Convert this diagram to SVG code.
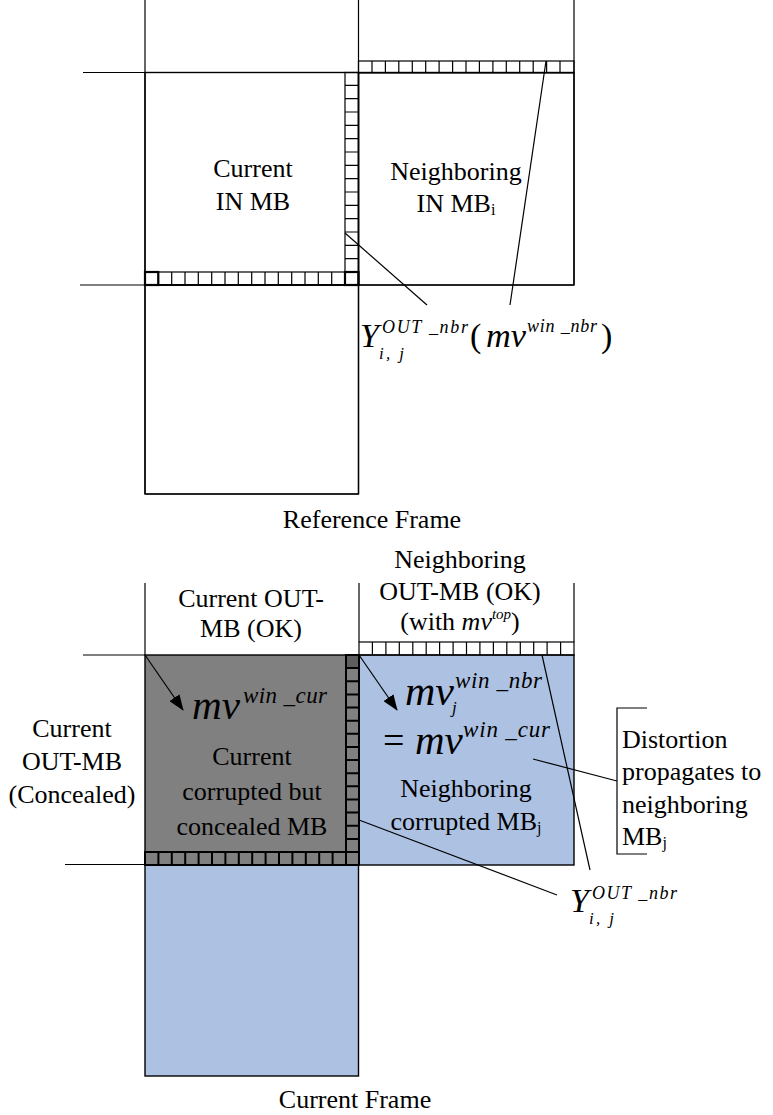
<svg xmlns="http://www.w3.org/2000/svg" width="773" height="1115" viewBox="0 0 773 1115">
<style>
.ln{stroke:#000;stroke-width:1.2;fill:none}
.box{stroke:#000;stroke-width:1.4}
.cell{stroke:#000;stroke-width:1.2;fill:none}
.gcell{stroke:#000;stroke-width:2;fill:none}
.t{font-family:"Liberation Serif","Times New Roman",serif;font-size:26px;fill:#000;text-anchor:middle}
.tl{font-family:"Liberation Serif","Times New Roman",serif;font-size:26px;fill:#000}
.m{font-family:"Liberation Serif","Times New Roman",serif;font-style:italic;fill:#000}
.r{font-family:"Liberation Serif","Times New Roman",serif;fill:#000}
</style>
<defs>
<marker id="ah" viewBox="0 0 16 12" refX="15" refY="6" markerWidth="16" markerHeight="12" markerUnits="userSpaceOnUse" orient="auto">
<path d="M0,0 L16,6 L0,12 Z" fill="#000"/>
</marker>
</defs>
<rect width="773" height="1115" fill="#fff"/>

<!-- Reference frame -->
<g id="ref-frame-lines">
<line class="ln" x1="145" y1="0" x2="145" y2="494"/>
<line class="ln" x1="358.5" y1="0" x2="358.5" y2="494"/>
<line class="ln" x1="574" y1="0" x2="574" y2="285"/>
<line class="ln" x1="83" y1="72.5" x2="358" y2="72.5"/>
<line class="ln" x1="80" y1="285" x2="574" y2="285"/>
<line class="ln" x1="145" y1="494" x2="358.5" y2="494"/>
</g>
<g id="current-in-mb">
<rect x="145" y="72.5" width="213.5" height="212.5" fill="none" class="box"/>
<rect x="345" y="72.5" width="13.5" height="212.5" fill="#fff" class="cell"/>
<path class="cell" d="M345,85.3H358.5M345,98.7H358.5M345,112H358.5M345,125.3H358.5M345,138.7H358.5M345,152H358.5M345,165.3H358.5M345,178.7H358.5M345,192H358.5M345,205.3H358.5M345,218.7H358.5M345,232H358.5M345,245.3H358.5M345,258.7H358.5M345,272H358.5"/>
<rect x="145" y="272" width="213.5" height="13" fill="#fff" class="cell"/>
<path class="cell" d="M158.3,272V285M171.7,272V285M185,272V285M198.3,272V285M211.7,272V285M225,272V285M238.3,272V285M251.7,272V285M265,272V285M278.3,272V285M291.7,272V285M305,272V285M318.3,272V285M331.7,272V285M345,272V285"/>
<rect x="145" y="272" width="13.3" height="13" fill="none" stroke="#000" stroke-width="2.2"/>
<rect x="345" y="272" width="13.5" height="13" fill="none" stroke="#000" stroke-width="2.2"/>
<text class="t" x="253" y="177">Current</text>
<text class="t" x="253" y="210">IN MB</text>
</g>
<g id="neighboring-in-mb">
<rect x="358.5" y="72.5" width="215.5" height="212.5" fill="none" class="box"/>
<rect x="358.5" y="61" width="215.5" height="12" fill="#fff" class="cell"/>
<path class="cell" d="M372,61V73M385.4,61V73M398.8,61V73M412.3,61V73M425.7,61V73M439.1,61V73M452.6,61V73M466,61V73M479.4,61V73M492.9,61V73M506.3,61V73M519.7,61V73M533.2,61V73M546.6,61V73M560,61V73"/>
<text class="t" x="456" y="180">Neighboring</text>
<text class="t" x="456" y="212">IN MB<tspan font-size="16" dy="3">i</tspan></text>
</g>
<g id="ref-lower-mb">
<rect x="145" y="285" width="213.5" height="209" fill="none" class="box"/>
</g>
<g id="ref-label">
<text class="m" x="360" y="347" font-size="34">Y</text>
<text class="m" x="382" y="333" font-size="18" textLength="86" lengthAdjust="spacing">OUT _nbr</text>
<text class="m" x="379" y="359" font-size="17" textLength="25" lengthAdjust="spacing">i, j</text>
<text class="r" x="470" y="347" font-size="34">(</text>
<text class="m" x="486" y="347" font-size="34" textLength="40" lengthAdjust="spacingAndGlyphs">mv</text>
<text class="m" x="527" y="332" font-size="18" textLength="70" lengthAdjust="spacing">win _nbr</text>
<text class="r" x="601" y="347" font-size="34">)</text>
</g>
<g id="ref-title">
<text class="t" x="372" y="528">Reference Frame</text>
</g>

<!-- Current frame -->
<g id="cur-frame-lines">
<line class="ln" x1="145" y1="583" x2="145" y2="655"/>
<line class="ln" x1="359" y1="583" x2="359" y2="642"/>
<line class="ln" x1="574" y1="583" x2="574" y2="642"/>
<line class="ln" x1="83" y1="655" x2="145" y2="655"/>
<line class="ln" x1="65" y1="864.5" x2="145" y2="864.5"/>
</g>
<g id="cur-lower-mb">
<rect x="145" y="865" width="213.5" height="211" fill="#adc2e3" class="box"/>
</g>
<g id="neighboring-corrupted-mb">
<rect x="359" y="655" width="215" height="210" fill="#adc2e3" class="box"/>
<rect x="359" y="642" width="215" height="13" fill="#fff" class="cell"/>
<path class="cell" d="M372.4,642V655M385.9,642V655M399.3,642V655M412.8,642V655M426.2,642V655M439.6,642V655M453.1,642V655M466.5,642V655M479.9,642V655M493.4,642V655M506.8,642V655M520.3,642V655M533.7,642V655M547.1,642V655M560.6,642V655"/>
<text class="t" x="466" y="797">Neighboring</text>
<text class="t" x="466" y="830">corrupted MB<tspan font-size="16" dy="3">j</tspan></text>
</g>
<g id="concealed-mb">
<rect x="145" y="655" width="214" height="210" fill="#808080" class="box"/>
<rect x="346" y="655" width="13" height="13" fill="#5e5e5e"/>
<rect x="346" y="655" width="13" height="210" fill="none" class="gcell"/>
<path class="gcell" d="M346,668.1H359M346,681.3H359M346,694.4H359M346,707.5H359M346,720.7H359M346,733.8H359M346,746.9H359M346,760.1H359M346,773.2H359M346,786.3H359M346,799.5H359M346,812.6H359M346,825.7H359M346,838.9H359M346,852H359"/>
<rect x="145" y="852" width="214" height="13" fill="none" class="gcell"/>
<path class="gcell" d="M158.4,852V865M171.8,852V865M185.2,852V865M198.6,852V865M212,852V865M225.4,852V865M238.8,852V865M252.2,852V865M265.6,852V865M279,852V865M292.4,852V865M305.8,852V865M319.2,852V865M332.6,852V865"/>
<text class="t" x="252" y="765">Current</text>
<text class="t" x="252" y="800">corrupted but</text>
<text class="t" x="252" y="835">concealed MB</text>
</g>
<g id="mv-labels">
<text class="m" x="192" y="719" font-size="42" textLength="48" lengthAdjust="spacingAndGlyphs">mv</text>
<text class="m" x="243" y="703" font-size="23" textLength="84" lengthAdjust="spacing">win _cur</text>
<text class="m" x="405" y="705" font-size="42">mv</text>
<text class="m" x="452" y="713" font-size="17">j</text>
<text class="m" x="455" y="688" font-size="23" textLength="87" lengthAdjust="spacing">win _nbr</text>
<text class="r" x="383" y="753" font-size="38">=</text>
<text class="m" x="415" y="754" font-size="41">mv</text>
<text class="m" x="463" y="737" font-size="23" textLength="87" lengthAdjust="spacing">win _cur</text>
</g>
<g id="cur-out-mb-ok">
<text class="t" x="251" y="607">Current OUT-</text>
<text class="t" x="251" y="637">MB (OK)</text>
</g>
<g id="neighboring-out-mb-ok">
<text class="t" x="460" y="568">Neighboring</text>
<text class="t" x="460" y="600">OUT-MB (OK)</text>
<text class="t" x="460" y="630">(with <tspan font-style="italic">mv</tspan><tspan font-style="italic" font-size="15" dy="-11">top</tspan><tspan dy="11">)</tspan></text>
</g>
<g id="cur-out-mb-concealed">
<text class="t" x="72" y="737">Current</text>
<text class="t" x="72" y="770">OUT-MB</text>
<text class="t" x="72" y="803">(Concealed)</text>
</g>
<g id="distortion-note">
<path class="ln" d="M647,708H617V854H647"/>
<text class="tl" x="622" y="748">Distortion</text>
<text class="tl" x="622" y="780">propagates to</text>
<text class="tl" x="622" y="813">neighboring</text>
<text class="tl" x="622" y="845">MB<tspan font-size="16" dy="3">j</tspan></text>
</g>
<g id="cur-label">
<text class="m" x="570" y="912" font-size="34">Y</text>
<text class="m" x="592" y="899" font-size="18" textLength="85" lengthAdjust="spacing">OUT _nbr</text>
<text class="m" x="589" y="924" font-size="17" textLength="25" lengthAdjust="spacing">i, j</text>
</g>
<g id="cur-title">
<text class="t" x="355" y="1108">Current Frame</text>
</g>

<g id="connectors">
<line class="ln" x1="345" y1="233" x2="427" y2="305"/>
<line class="ln" x1="546" y1="61" x2="510" y2="305"/>
<line class="ln" x1="145" y1="655" x2="183" y2="710" marker-end="url(#ah)"/>
<line class="ln" x1="359" y1="655" x2="397" y2="710" marker-end="url(#ah)"/>
<line class="ln" x1="542" y1="655" x2="590" y2="870"/>
<line class="ln" x1="359" y1="820" x2="557" y2="895"/>
<line class="ln" x1="533" y1="759" x2="617" y2="781"/>
</g>
</svg>
